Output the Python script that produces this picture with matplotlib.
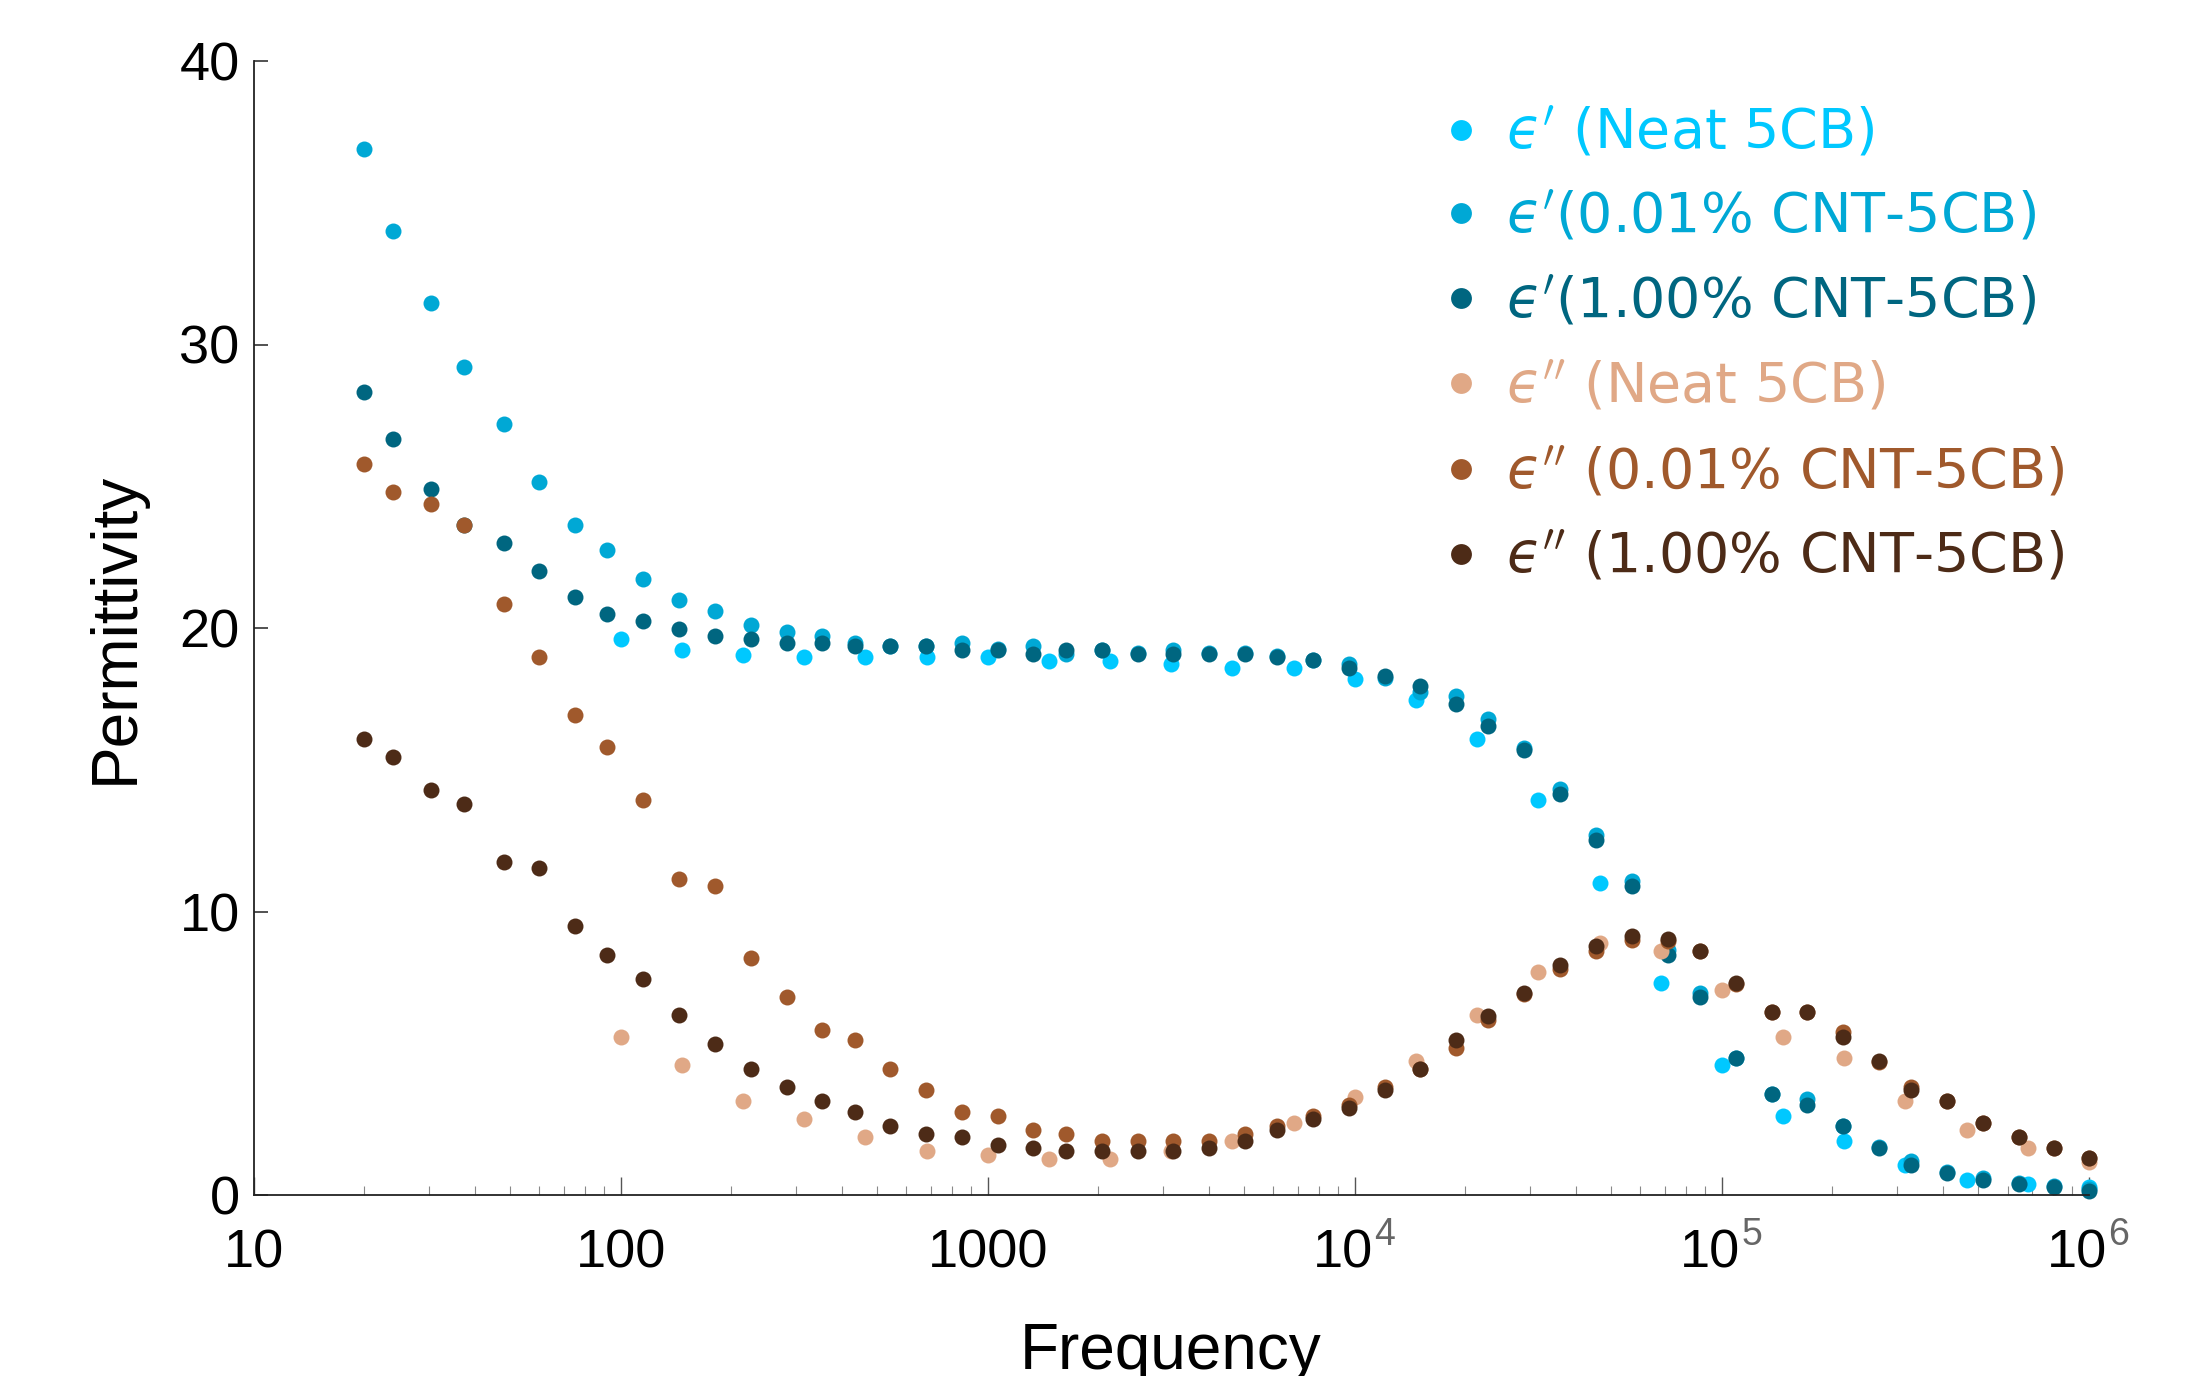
import matplotlib
matplotlib.use("Agg")
import matplotlib.pyplot as plt
from matplotlib.lines import Line2D

plt.rcParams['font.family'] = ['Liberation Sans', 'DejaVu Sans']
plt.rcParams['mathtext.fontset'] = 'dejavusans'

# ---------------- data ----------------
freq_cnt = [20, 23.9, 30.5, 37.5, 48, 60, 75.3, 92, 115, 144, 181, 226, 284, 354, 434,
            542, 679, 851, 1064, 1330, 1630, 2046, 2560, 3200, 4018, 5020, 6140, 7710,
            9620, 12050, 15030, 18880, 23070, 28970, 36200, 45300, 56750, 71300, 87300,
            108900, 136500, 170600, 213800, 268500, 326600, 409300, 514000, 642700,
            803500, 1000000]
freq_neat = [100, 147, 215, 316, 464, 681, 1000, 1468, 2154, 3162, 4642, 6813, 10000,
             14678, 21544, 31623, 46416, 68129, 100000, 146780, 215440, 316230, 464160,
             681290, 1000000]

eps1_neat = [19.6, 19.22, 19.05, 18.97, 18.97, 18.97, 18.97, 18.84, 18.84, 18.72, 18.58,
             18.58, 18.21, 17.46, 16.07, 13.92, 11.01, 7.48, 4.57, 2.80, 1.92, 1.05, 0.53,
             0.40, 0.28]
eps1_001 = [36.9, 34.0, 31.47, 29.2, 27.18, 25.16, 23.63, 22.75, 21.74, 20.99, 20.61,
            20.11, 19.86, 19.73, 19.48, 19.38, 19.38, 19.47, 19.25, 19.35, 19.10, 19.22,
            19.12, 19.22, 19.12, 19.12, 19.0, 18.88, 18.73, 18.24, 17.75, 17.59, 16.78,
            15.75, 14.32, 12.69, 11.06, 8.64, 7.14, 4.85, 3.58, 3.38, 2.45, 1.70, 1.20,
            0.80, 0.60, 0.42, 0.30, 0.20]
eps1_100 = [28.31, 26.66, 24.89, 23.65, 23.0, 22.0, 21.11, 20.48, 20.23, 19.98, 19.73,
            19.60, 19.47, 19.47, 19.35, 19.35, 19.35, 19.22, 19.22, 19.10, 19.22, 19.22,
            19.10, 19.10, 19.10, 19.10, 18.98, 18.86, 18.60, 18.32, 17.97, 17.33, 16.56,
            15.70, 14.16, 12.53, 10.90, 8.48, 6.98, 4.82, 3.56, 3.19, 2.42, 1.67, 1.05,
            0.77, 0.53, 0.40, 0.28, 0.15]
eps2_neat = [5.59, 4.57, 3.31, 2.67, 2.05, 1.54, 1.41, 1.28, 1.28, 1.54, 1.92, 2.55, 3.45,
             4.71, 6.34, 7.86, 8.90, 8.61, 7.22, 5.59, 4.82, 3.30, 2.29, 1.65, 1.18]
eps2_001 = [25.77, 24.78, 24.39, 23.63, 20.86, 18.97, 16.94, 15.81, 13.92, 11.16, 10.89,
            8.36, 6.98, 5.83, 5.46, 4.44, 3.69, 2.93, 2.80, 2.29, 2.16, 1.92, 1.92, 1.92,
            1.92, 2.16, 2.42, 2.80, 3.19, 3.82, 4.45, 5.18, 6.19, 7.10, 7.96, 8.61, 9.0,
            8.95, 8.60, 7.45, 6.45, 6.45, 5.75, 4.70, 3.82, 3.30, 2.55, 2.05, 1.65, 1.30]
eps2_100 = [16.07, 15.44, 14.29, 13.80, 11.76, 11.52, 9.49, 8.48, 7.61, 6.34, 5.33, 4.44,
            3.82, 3.32, 2.93, 2.42, 2.16, 2.05, 1.78, 1.66, 1.54, 1.54, 1.54, 1.54, 1.66,
            1.92, 2.29, 2.67, 3.06, 3.69, 4.44, 5.46, 6.32, 7.11, 8.10, 8.77, 9.15, 9.02,
            8.61, 7.48, 6.47, 6.47, 5.59, 4.71, 3.69, 3.30, 2.55, 2.05, 1.65, 1.29]

labels = ["$\u03f5'$ (Neat 5CB)", "$\u03f5'$(0.01% CNT-5CB)", "$\u03f5'$(1.00% CNT-5CB)",
          "$\u03f5''$ (Neat 5CB)", "$\u03f5''$ (0.01% CNT-5CB)", "$\u03f5''$ (1.00% CNT-5CB)"]
colors = ['#00C8FF', '#00A8D5', '#006680', '#E0A886', '#A0592C', '#4D2B17']

series = [(freq_neat, eps1_neat), (freq_cnt, eps1_001), (freq_cnt, eps1_100),
          (freq_neat, eps2_neat), (freq_cnt, eps2_001), (freq_cnt, eps2_100)]

xticks = [10, 100, 1000, 1e4, 1e5, 1e6]
xtick_base = ['10', '100', '1000', '10', '10', '10']
xtick_exp = ['', '', '', '4', '5', '6']
yticks = [0, 10, 20, 30, 40]

# ---------------- figure ----------------
W, H = 2197, 1376
fig = plt.figure(figsize=(W / 100, H / 100), dpi=100)
ax = fig.add_axes([253.6 / W, 1 - 1195 / H, (2089 - 253.6) / W, (1195 - 61) / H])

for (x, y), c in zip(series, colors):
    ax.plot(x, y, linestyle='none', marker='o', markersize=11.5, color=c,
            markeredgewidth=0, clip_on=False)

ax.set_xscale('log')
ax.set_xlim(10, 1e6)
ax.set_ylim(0, 40)
for s in ['top', 'right']:
    ax.spines[s].set_visible(False)
for s in ['left', 'bottom']:
    ax.spines[s].set_linewidth(1.3)
    ax.spines[s].set_color('#222222')

ax.set_yticks(yticks)
ax.set_yticklabels([str(v) for v in yticks])
ax.tick_params(axis='y', direction='in', length=10, width=1.1, pad=10,
               labelsize=39, color='#222222')
ax.set_xticks(xticks)
ax.set_xticklabels([''] * len(xticks))
ax.tick_params(axis='x', which='major', direction='in', length=13, width=1.0,
               color='#555555')
ax.tick_params(axis='x', which='minor', direction='in', length=6.5, width=0.8,
               color='#888888')

# x tick labels with grey exponents
for xv, b, e in zip(xticks, xtick_base, xtick_exp):
    if e:
        ax.annotate(b, xy=(xv, 0), xycoords=('data', 'axes fraction'),
                    xytext=(13, -53 * 0.72), textcoords='offset points',
                    ha='right', va='center_baseline', fontsize=39, annotation_clip=False)
        ax.annotate(e, xy=(xv, 0), xycoords=('data', 'axes fraction'),
                    xytext=(14, -36 * 0.72), textcoords='offset points',
                    ha='left', va='center_baseline', fontsize=27, color='#666666',
                    annotation_clip=False)
    else:
        ax.annotate(b, xy=(xv, 0), xycoords=('data', 'axes fraction'),
                    xytext=(0, -53 * 0.72), textcoords='offset points',
                    ha='center', va='center_baseline', fontsize=39, annotation_clip=False)

fig.text(1171 / W, 1 - 1369.5 / H, 'Frequency', ha='center', va='baseline', fontsize=46)
fig.text(116 / W, 1 - 628 / H, 'Permittivity', rotation=90, ha='center', va='center',
         fontsize=46)

# legend
row_y = [129.5, 212.9, 298.2, 383.0, 468.8, 553.6]
for ry, lab, c in zip(row_y, labels, colors):
    fig.add_artist(Line2D([1460.6 / W], [1 - ry / H], marker='o', markersize=15,
                          color=c, markeredgewidth=0, linestyle='none'))
    fig.text(1506 / W, 1 - (ry + 19) / H, lab, color=c, fontsize=40,
             family='DejaVu Sans', ha='left', va='baseline')

fig.savefig('out.png', dpi=100)
